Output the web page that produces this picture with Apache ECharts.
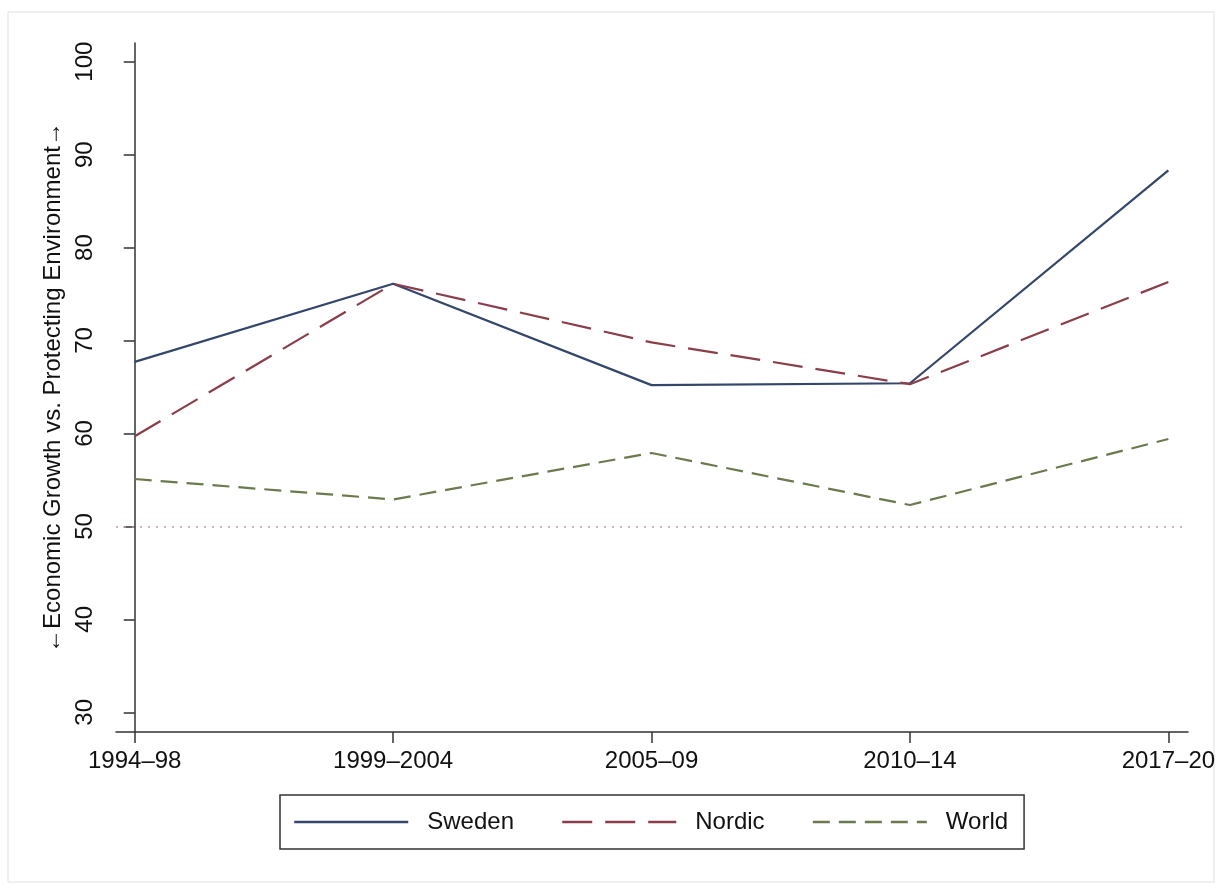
<!DOCTYPE html>
<html>
<head>
<meta charset="utf-8">
<script src="https://cdn.jsdelivr.net/npm/echarts@6/dist/echarts.min.js"></script>
<style>
html,body{margin:0;padding:0;background:#fff;}
#chart{width:1217px;height:888px;}
</style>
</head>
<body>
<div id="chart"></div>
<script>
const periods = ['1994\u201398', '1999\u20132004', '2005\u201309', '2010\u201314', '2017\u201320'];
const sweden = [67.7, 76.1, 65.2, 65.4, 88.3];
const nordic = [59.7, 76.1, 69.8, 65.3, 76.3];
const world = [55.1, 52.9, 57.9, 52.3, 59.4];
const yTicks = [30, 40, 50, 60, 70, 80, 90, 100];
const xTicks = [0, 1, 2, 3, 4];
const referenceLine = 50;

const FONT = 'Liberation Sans, Arial, Helvetica, sans-serif';
const toPts = arr => arr.map((v, i) => [i, v]);

const chart = echarts.init(document.getElementById('chart'));
chart.setOption({
  backgroundColor: '#fff',
  animation: false,
  textStyle: { fontFamily: FONT },
  graphic: [{
    type: 'rect', silent: true, z: -10,
    shape: { x: 8, y: 12, width: 1206, height: 870 },
    style: { fill: 'none', stroke: '#ebebeb', lineWidth: 1.5 }
  }],
  grid: { left: 116, top: 43, width: 1072, height: 689, containLabel: false, outerBoundsMode: 'none' },
  xAxis: {
    type: 'value', min: -0.0724, max: 4.076,
    axisLine: { show: true, lineStyle: { color: '#333', width: 1.5 } },
    axisTick: { show: true, length: 11, customValues: xTicks, lineStyle: { color: '#333', width: 1.5 } },
    axisLabel: { customValues: xTicks, formatter: v => periods[v], fontSize: 24, color: '#111', margin: 17, fontFamily: FONT },
    splitLine: { show: false }
  },
  yAxis: {
    type: 'value', min: 27.88, max: 102.01,
    name: '\u2190Economic Growth vs. Protecting Environment\u2192',
    nameLocation: 'middle', nameGap: 48,
    nameTextStyle: { fontSize: 24, color: '#111', fontFamily: FONT },
    axisLine: { show: true, lineStyle: { color: '#333', width: 1.5 } },
    axisTick: { show: true, length: 11, customValues: yTicks, lineStyle: { color: '#333', width: 1.5 } },
    axisLabel: { customValues: yTicks, rotate: 90, fontSize: 24, color: '#111', margin: 19, fontFamily: FONT },
    splitLine: { show: false }
  },
  legend: {
    left: 280, top: 795,
    orient: 'horizontal',
    padding: [15, 16, 15, 13],
    itemWidth: 114, itemHeight: 20, itemGap: 47,
    borderColor: '#333', borderWidth: 1.5, backgroundColor: '#fff',
    itemStyle: { opacity: 0 },
    lineStyle: { width: 2.5 },
    textStyle: { fontSize: 24, color: '#111', fontFamily: FONT, padding: [0, 0, 0, 14] },
    data: ['Sweden', 'Nordic', 'World']
  },
  series: [
    {
      name: 'Sweden', type: 'line', symbol: 'none', data: toPts(sweden),
      lineStyle: { color: '#34466a', width: 2.2 }, itemStyle: { color: '#34466a' },
      markLine: {
        silent: true, symbol: 'none', label: { show: false },
        lineStyle: { color: '#c49a9a', type: [2, 6], width: 1.5 },
        data: [{ yAxis: referenceLine }]
      }
    },
    {
      name: 'Nordic', type: 'line', symbol: 'none', data: toPts(nordic),
      lineStyle: { color: '#8a3e4b', width: 2.2, type: [30, 13] }, itemStyle: { color: '#8a3e4b' }
    },
    {
      name: 'World', type: 'line', symbol: 'none', data: toPts(world),
      lineStyle: { color: '#6b7a4d', width: 2.2, type: [17, 9] }, itemStyle: { color: '#6b7a4d' }
    }
  ]
});
</script>
</body>
</html>
